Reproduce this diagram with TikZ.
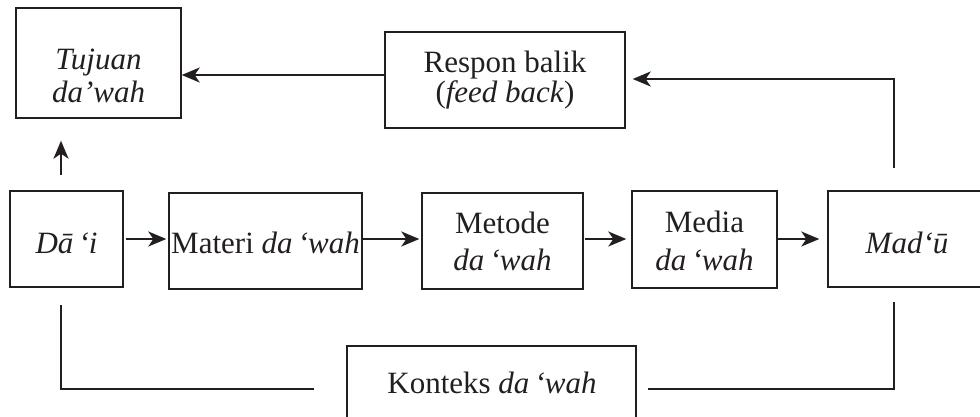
\documentclass[tikz,border=0pt]{standalone}
\usepackage{fontspec}
\setmainfont{Liberation Serif}
\usetikzlibrary{arrows.meta}
\definecolor{ink}{HTML}{231F20}
\begin{document}
\begin{tikzpicture}[x=1pt,y=-1pt,
  box/.style={draw=ink, line width=1.4pt, inner sep=0pt},
  txt/.style={inner sep=0pt, text=ink, font=\fontsize{31}{33}\selectfont, align=center},
  conn/.style={draw=ink, line width=1.8pt},
  arr/.style={conn, -{Stealth[length=18pt,width=15pt,inset=5pt]}}]
\useasboundingbox (0,0) rectangle (980,416);

% boxes
\node[box, minimum width=165pt, minimum height=110pt] (tujuan) at (98.5,63) {};
\node[box, minimum width=240pt, minimum height=96pt] (respon) at (505,80) {};
\node[box, minimum width=113pt, minimum height=96pt] (dai) at (66.5,239) {};
\node[box, minimum width=193pt, minimum height=96pt] (materi) at (265.5,241) {};
\node[box, minimum width=161pt, minimum height=96pt] (metode) at (502.5,241) {};
\node[box, minimum width=145pt, minimum height=97pt] (media) at (704.5,239.5) {};
\node[box, minimum width=160pt, minimum height=96pt] (madu) at (908,239) {};
\node[box, minimum width=289pt, minimum height=86pt] (konteks) at (491.5,389) {};

% texts
\node[txt] (tujuanT) at (98.5,76) {\textit{Tujuan}\\\textit{da’wah}};
\node[txt] (responT) at (505,80) {Respon balik\\[-3pt](\textit{feed back})};
\node[txt, anchor=base] (daiT) at (66.5,253) {\textit{Dā\,‘i}};
\node[txt, anchor=base] (materiT) at (265.5,253) {Materi \textit{da\,‘wah}};
\node[txt] (metodeT) at (502.5,241) {Metode\\[4pt]\textit{da\,‘wah}};
\node[txt] (mediaT) at (704.5,240.5) {Media\\[5pt]\textit{da\,‘wah}};
\node[txt, anchor=base] (maduT) at (907,253) {\textit{Mad‘ū}};
\node[txt, anchor=base] (kontexT) at (492,393) {Konteks \textit{da\,‘wah}};

% connectors
\coordinate (upA) at (61,175);
\coordinate (fbA) at (894,168);
\coordinate (blA) at (61,305);
\coordinate (brA) at (894,302);

\draw[arr] ([yshift=5pt]respon.west) -- ([yshift=5pt]respon.west -| tujuan.east);
\draw[arr, shorten >=7pt] (fbA) |- ([yshift=1pt]respon.east);
\draw[arr, shorten >=22pt] (upA) -- (upA |- tujuan.south);

\draw[arr, shorten <=2pt, shorten >=2pt] (dai.east) -- (dai.east -| materi.west);
\draw[arr, shorten >=2pt] (dai.east -| materi.east) -- (dai.east -| metode.west);
\draw[arr, shorten <=1pt, shorten >=5pt] (dai.east -| metode.east) -- (dai.east -| media.west);
\draw[arr, shorten >=8pt] (dai.east -| media.east) -- (dai.east -| madu.west);

\draw[conn] (blA) |- ([xshift=-32pt]konteks.west);
\draw[conn] ([xshift=11pt]konteks.east) -| (brA);
\end{tikzpicture}
\end{document}
